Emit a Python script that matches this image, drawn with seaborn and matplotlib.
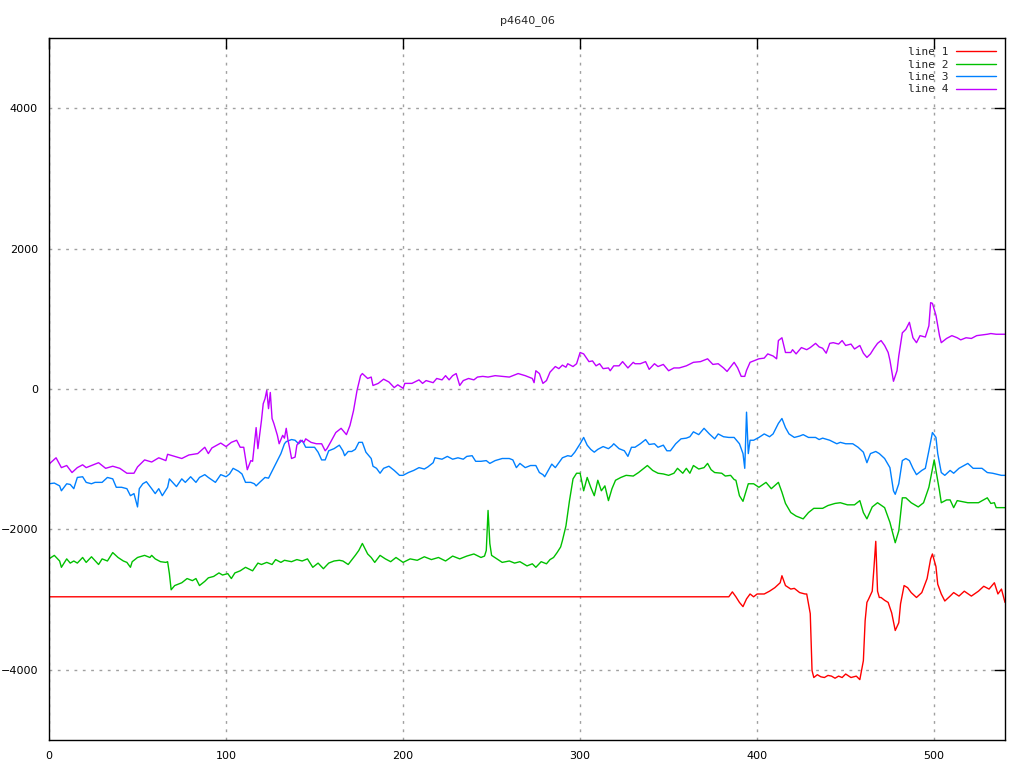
import pandas as pd
import matplotlib
matplotlib.use('Agg')
import matplotlib.pyplot as plt
import seaborn as sns

# ---------- data ----------
title = 'p4640_06'
labels = ['line 1', 'line 2', 'line 3', 'line 4']
colors = ['#ff0000', '#00c000', '#0080ff', '#c000ff']

# line 1 (red)
l1_x = [0, 384, 386, 388, 390, 392, 394, 396, 398, 400, 404, 407, 410, 413, 414, 416, 419, 421, 424, 427,
        428, 430, 431, 432, 434, 436, 438, 440, 442, 444, 446, 448, 450, 453, 456, 458, 460, 461, 462, 463,
        465, 466, 467, 468, 469, 470, 472, 474, 476, 478, 480, 481, 483, 485, 487, 490, 493, 496, 498, 499,
        501, 502, 504, 506, 509, 511, 514, 517, 521, 525, 528, 531, 534, 536, 538, 540]
l1_y = [-2960, -2960, -2890, -2960, -3040, -3100, -2990, -2920, -2960, -2920, -2920, -2880, -2830, -2760, -2660,
        -2800, -2850, -2840, -2900, -2920, -2920, -3200, -4010, -4110, -4070, -4100, -4110, -4080, -4090, -4120,
        -4090, -4110, -4060, -4110, -4090, -4140, -3870, -3300, -3040, -2990, -2880, -2540, -2170, -2880, -2970,
        -2970, -3010, -3040, -3190, -3440, -3330, -3060, -2800, -2830, -2900, -2970, -2900, -2700, -2420, -2350,
        -2530, -2780, -2920, -3020, -2950, -2900, -2950, -2880, -2950, -2880, -2810, -2850, -2760, -2920, -2850,
        -3040]

# line 2 (green)
l2_x = [0, 3, 6, 7, 10, 12, 14, 16, 19, 21, 24, 28, 30, 33, 36, 39, 42, 44, 46, 47, 50, 54, 57, 58, 60, 63,
        66, 67, 68, 69, 71, 75, 78, 81, 83, 85, 88, 90, 93, 96, 98, 101, 103, 105, 108, 111, 115, 118, 120,
        123, 126, 128, 131, 133, 137, 140, 143, 146, 149, 152, 155, 158, 161, 164, 166, 169, 173, 175, 177,
        180, 182, 184, 187, 190, 193, 196, 200, 204, 208, 212, 216, 220, 224, 228, 232, 236, 240, 244, 246,
        247, 248, 249, 250, 253, 256, 260, 263, 266, 270, 273, 275, 278, 281, 283, 285, 287, 289, 290, 292,
        294, 296, 298, 300, 302, 304, 306, 308, 310, 312, 314, 316, 318, 320, 323, 326, 330, 333, 338, 341,
        344, 347, 350, 353, 355, 358, 360, 362, 364, 367, 370, 372, 374, 376, 380, 382, 385, 387, 388, 390,
        392, 395, 398, 401, 405, 408, 412, 414, 416, 419, 422, 426, 429, 432, 437, 440, 444, 447, 451, 455,
        458, 460, 462, 465, 468, 472, 475, 477, 478, 480, 482, 484, 487, 491, 494, 497, 500, 501, 503, 504,
        507, 509, 511, 513, 519, 525, 530, 532, 534, 535, 540]
l2_y = [-2420, -2370, -2450, -2540, -2420, -2480, -2450, -2480, -2400, -2470, -2390, -2500, -2420, -2450, -2330,
        -2400, -2450, -2470, -2540, -2460, -2400, -2370, -2400, -2370, -2420, -2460, -2470, -2460, -2630, -2860,
        -2800, -2760, -2700, -2730, -2700, -2800, -2740, -2690, -2670, -2620, -2650, -2630, -2700, -2620, -2590,
        -2540, -2590, -2480, -2500, -2470, -2500, -2430, -2470, -2440, -2460, -2430, -2450, -2420, -2540, -2480,
        -2560, -2480, -2450, -2440, -2450, -2500, -2370, -2300, -2200, -2350, -2400, -2470, -2370, -2420, -2460,
        -2400, -2470, -2420, -2440, -2390, -2430, -2400, -2450, -2380, -2420, -2380, -2350, -2400, -2380, -2300,
        -1730, -2200, -2370, -2420, -2470, -2450, -2480, -2460, -2520, -2490, -2540, -2460, -2490, -2430, -2400,
        -2330, -2250, -2160, -1950, -1590, -1280, -1200, -1200, -1450, -1260, -1400, -1520, -1300, -1450, -1380,
        -1590, -1420, -1300, -1260, -1230, -1240, -1190, -1090, -1160, -1200, -1210, -1230, -1200, -1130, -1200,
        -1130, -1200, -1090, -1140, -1120, -1060, -1150, -1190, -1200, -1240, -1230, -1290, -1300, -1520, -1600,
        -1350, -1350, -1400, -1330, -1420, -1330, -1470, -1630, -1760, -1810, -1850, -1760, -1700, -1700, -1660,
        -1630, -1620, -1650, -1650, -1590, -1760, -1850, -1680, -1620, -1690, -1900, -2090, -2190, -2020, -1550,
        -1550, -1620, -1680, -1620, -1400, -1010, -1160, -1450, -1620, -1580, -1580, -1690, -1590, -1620, -1620,
        -1550, -1630, -1620, -1690, -1690]

# line 3 (blue)
l3_x = [0, 3, 6, 7, 10, 12, 14, 16, 19, 21, 24, 26, 30, 33, 36, 38, 41, 44, 46, 48, 50, 51, 53, 55, 58, 60,
        62, 64, 67, 68, 72, 75, 77, 80, 83, 85, 88, 90, 94, 97, 100, 102, 104, 107, 109, 111, 114, 116, 117,
        119, 122, 124, 127, 129, 131, 133, 134, 137, 139, 141, 143, 145, 148, 150, 152, 154, 156, 158, 161,
        164, 166, 167, 169, 171, 173, 175, 177, 179, 182, 183, 185, 187, 189, 192, 195, 198, 200, 203, 206,
        209, 212, 214, 217, 218, 222, 225, 228, 231, 234, 236, 239, 241, 244, 247, 249, 252, 256, 260, 262,
        264, 266, 269, 272, 275, 277, 279, 280, 282, 284, 286, 288, 290, 293, 295, 297, 300, 302, 304, 306,
        308, 310, 313, 316, 318, 319, 322, 325, 327, 329, 331, 334, 337, 339, 342, 344, 347, 349, 351, 354,
        357, 360, 362, 364, 367, 370, 373, 376, 378, 381, 384, 387, 390, 392, 393, 394, 395, 396, 398, 401,
        404, 407, 409, 412, 414, 416, 418, 421, 424, 426, 429, 433, 435, 437, 441, 445, 447, 450, 454, 457,
        460, 462, 464, 467, 469, 472, 475, 477, 478, 480, 482, 484, 486, 488, 490, 493, 495, 497, 499, 501,
        502, 504, 506, 509, 511, 514, 519, 522, 527, 530, 533, 538, 540]
l3_y = [-1350, -1340, -1380, -1450, -1350, -1360, -1420, -1260, -1250, -1330, -1350, -1330, -1330, -1260, -1280,
        -1400, -1400, -1420, -1520, -1490, -1680, -1420, -1350, -1320, -1420, -1490, -1420, -1520, -1400, -1280,
        -1390, -1280, -1330, -1250, -1330, -1260, -1220, -1260, -1330, -1220, -1250, -1210, -1130, -1170, -1210,
        -1330, -1330, -1350, -1380, -1330, -1260, -1270, -1120, -1020, -920, -780, -750, -720, -730, -780, -730,
        -830, -830, -830, -900, -1010, -1010, -880, -850, -800, -880, -950, -890, -890, -860, -760, -760, -900,
        -990, -1100, -1130, -1200, -1130, -1100, -1160, -1230, -1230, -1190, -1160, -1120, -1140, -1110, -1050,
        -980, -1000, -960, -1000, -980, -1000, -960, -950, -1030, -1030, -1020, -1060, -1020, -990, -990, -1010,
        -1120, -1060, -1120, -1090, -1090, -1190, -1220, -1250, -1160, -1070, -1120, -1050, -980, -950, -960,
        -900, -780, -690, -800, -860, -900, -860, -820, -850, -810, -780, -850, -880, -960, -830, -830, -780,
        -720, -790, -780, -830, -800, -880, -880, -780, -710, -700, -680, -610, -650, -560, -640, -710, -640,
        -680, -690, -690, -780, -920, -1130, -330, -920, -730, -730, -690, -640, -680, -640, -490, -420, -550,
        -640, -690, -670, -650, -690, -690, -720, -700, -730, -780, -760, -780, -780, -830, -900, -1050, -920,
        -890, -920, -990, -1120, -1450, -1500, -1350, -1020, -990, -1020, -1130, -1220, -1160, -1130, -880, -620,
        -690, -920, -1190, -1230, -1160, -1200, -1130, -1060, -1130, -1130, -1190, -1200, -1230, -1230]

# line 4 (purple)
l4_x = [0, 4, 7, 10, 13, 16, 19, 21, 24, 28, 32, 36, 40, 44, 48, 50, 54, 58, 62, 66, 67, 71, 75, 79, 84, 88,
        90, 92, 97, 100, 103, 106, 108, 110, 112, 114, 115, 117, 118, 120, 121, 122, 123, 124, 125, 126, 127,
        129, 130, 132, 133, 134, 135, 136, 137, 139, 140, 142, 144, 145, 148, 151, 154, 156, 157, 159, 162,
        165, 166, 168, 170, 172, 174, 176, 177, 180, 182, 183, 186, 189, 192, 195, 197, 200, 201, 205, 209,
        211, 213, 217, 219, 222, 224, 226, 228, 230, 232, 234, 237, 240, 242, 245, 248, 252, 256, 260, 262,
        265, 269, 273, 274, 275, 277, 279, 281, 283, 286, 288, 290, 292, 293, 296, 298, 300, 302, 305, 307,
        309, 311, 313, 316, 317, 319, 322, 324, 325, 327, 330, 331, 334, 337, 339, 342, 344, 347, 350, 353,
        356, 360, 364, 368, 372, 375, 378, 381, 383, 387, 389, 391, 393, 394, 396, 398, 401, 404, 406, 409,
        411, 412, 414, 416, 419, 420, 422, 425, 428, 430, 433, 435, 437, 439, 441, 443, 446, 448, 450, 453,
        455, 458, 460, 462, 464, 466, 468, 470, 472, 474, 475, 477, 479, 480, 482, 484, 486, 488, 490, 492,
        495, 497, 498, 499, 501, 503, 504, 507, 510, 513, 515, 518, 521, 524, 527, 530, 532, 535, 538, 540]
l4_y = [-1070, -980, -1120, -1090, -1190, -1120, -1080, -1120, -1090, -1050, -1130, -1100, -1130, -1200, -1200,
        -1110, -1010, -1040, -980, -1020, -930, -960, -990, -940, -920, -830, -920, -840, -770, -820, -760, -730,
        -830, -830, -1150, -1020, -1030, -550, -850, -450, -210, -140, -20, -280, -50, -420, -490, -660, -780,
        -660, -700, -560, -730, -850, -990, -970, -800, -730, -760, -710, -760, -780, -780, -880, -850, -760,
        -620, -560, -590, -650, -520, -310, -20, 190, 220, 150, 170, 50, 80, 140, 100, 20, 60, 10, 80, 80, 130,
        80, 120, 90, 150, 130, 190, 130, 190, 220, 50, 120, 150, 130, 170, 180, 170, 190, 180, 170, 190, 220,
        190, 150, 90, 260, 220, 80, 120, 240, 320, 290, 340, 310, 360, 320, 360, 520, 500, 390, 400, 330, 360,
        290, 300, 260, 330, 330, 390, 360, 300, 380, 360, 360, 390, 280, 360, 320, 350, 260, 300, 300, 330, 380,
        390, 430, 350, 360, 300, 250, 380, 300, 180, 180, 265, 380, 400, 430, 440, 500, 470, 430, 690, 730, 520,
        520, 560, 500, 590, 560, 590, 650, 600, 580, 510, 650, 660, 640, 690, 620, 640, 570, 620, 510, 450, 500,
        580, 650, 690, 620, 520, 410, 110, 260, 470, 800, 850, 950, 730, 660, 760, 740, 900, 1230, 1220, 1050,
        760, 660, 720, 760, 730, 700, 730, 720, 760, 770, 780, 790, 780, 780, 780]

# ---------- long table for seaborn ----------
frames = []
for lab, xs, ys in zip(labels, [l1_x, l2_x, l3_x, l4_x], [l1_y, l2_y, l3_y, l4_y]):
    frames.append(pd.DataFrame({'x': xs, 'y': ys, 'line': lab}))
df = pd.concat(frames, ignore_index=True)

# ---------- plot ----------
sns.set_style('white')
plt.rcParams['font.family'] = ['DejaVu Sans']

fig = plt.figure(figsize=(10.24, 7.68), dpi=100)
ax = plt.subplot(111)
plt.subplots_adjust(left=49 / 1024, right=1005 / 1024, top=1 - 38 / 768, bottom=1 - 740 / 768)

sns.lineplot(data=df, x='x', y='y', hue='line', hue_order=labels, palette=colors,
             estimator=None, sort=False, linewidth=1, ax=ax)

ax.set_xlim(0, 540)
ax.set_ylim(-5000, 5000)
ax.set_xticks([0, 100, 200, 300, 400, 500])
ax.set_yticks([-4000, -2000, 0, 2000, 4000])
ax.set_xlabel('')
ax.set_ylabel('')

# gnuplot look: dotted grid, inward ticks on all sides, black frame
ax.grid(True, color='#a0a0a0', linestyle=(0, (2, 4)), linewidth=1)
ax.tick_params(direction='in', length=8, width=1, top=True, right=True,
               labelsize=8, colors='black')
ax.tick_params(axis='y', pad=8)
ax.tick_params(axis='x', pad=8)
for s in ax.spines.values():
    s.set_color('black')
    s.set_linewidth(1)

ax.set_title(title, fontsize=8, pad=11)

handles, labs = ax.get_legend_handles_labels()
ax.legend(handles, labs, loc='upper right', bbox_to_anchor=(0.996, 0.995), frameon=False,
          markerfirst=False, handlelength=3.6, handletextpad=0.6, labelspacing=0.22,
          borderpad=0, prop={'family': 'DejaVu Sans Mono', 'size': 8})

plt.savefig('out.png', dpi=100)
